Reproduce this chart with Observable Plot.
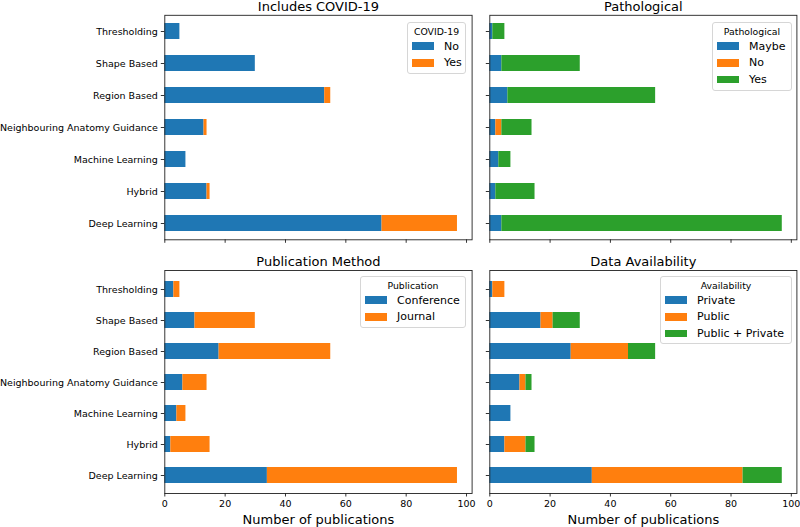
<!DOCTYPE html>
<html>
<head>
<meta charset="utf-8">
<script src="https://cdn.jsdelivr.net/npm/d3@7"></script>
<script src="https://cdn.jsdelivr.net/npm/@observablehq/plot@0.6"></script>
<style>
  html, body { margin: 0; padding: 0; background: #fff; }
  #root { position: relative; width: 800px; height: 527px; background: #fff; font-family: "DejaVu Sans", sans-serif; color: #000; overflow: hidden; }
  .panel { position: absolute; }
  .legend { position: absolute; box-sizing: border-box; border: 1px solid #d6d6d6; border-radius: 3px; background: rgba(255,255,255,0.85); }
  .legend .lt { position: absolute; left: 0; right: 0; text-align: center; font-size: 9.3px; line-height: 1; }
  .legend .sw { position: absolute; width: 22px; height: 7.5px; }
  .legend .lb { position: absolute; font-size: 11px; line-height: 1; white-space: nowrap; }
</style>
</head>
<body>
<div id="root"></div>
<script>
// ---- Data ----
const categories = ["Thresholding", "Shape Based", "Region Based", "Neighbouring Anatomy Guidance", "Machine Learning", "Hybrid", "Deep Learning"];

const covidSeries = ["No", "Yes"];
const covidNo  = [5, 30, 53, 13, 7, 14, 72];
const covidYes = [0, 0, 2, 1, 0, 1, 25];

const pathSeries = ["Maybe", "No", "Yes"];
const pathMaybe = [1, 4, 6, 2, 3, 2, 4];
const pathNo    = [0, 0, 0, 2, 0, 0, 0];
const pathYes   = [4, 26, 49, 10, 4, 13, 93];

const pubSeries = ["Conference", "Journal"];
const pubConference = [3, 10, 18, 6, 4, 2, 34];
const pubJournal    = [2, 20, 37, 8, 3, 13, 63];

const availSeries = ["Private", "Public", "Public + Private"];
const availPrivate = [1, 17, 27, 10, 7, 5, 34];
const availPublic  = [4, 4, 19, 2, 0, 7, 50];
const availBoth    = [0, 9, 9, 2, 0, 3, 13];

const xTicks = [0, 20, 40, 60, 80, 100];
const palette = ["#1f77b4", "#ff7f0e", "#2ca02c"];

// ---- Helpers ----
function toRows(series, arrays) {
  const rows = [];
  series.forEach((s, k) => {
    categories.forEach((c, i) => rows.push({category: c, series: s, value: arrays[k][i]}));
  });
  return rows;
}

function panel(opts) {
  const {rows, series, title, showY, showX, width, height, mt, mr, mb, ml} = opts;
  const marks = [
    Plot.barX(rows, {x: "value", y: "category", fill: "series", inset: 0}),
    Plot.axisY({tickSize: 3.5, tickPadding: 3.5, strokeWidth: 0.8, label: null, fontSize: 9.5,
                tickFormat: showY ? (d => d) : (() => "")}),
    Plot.axisX({ticks: xTicks, tickSize: 3.5, tickPadding: 3, strokeWidth: 0.8, label: null, fontSize: 9.5,
                tickFormat: showX ? (d => d) : (() => "")}),
    Plot.frame({stroke: "#222", strokeWidth: 0.9}),
    Plot.text([title], {frameAnchor: "top", lineAnchor: "bottom", dy: -4.5, fontSize: 13, fill: "#000"})
  ];
  if (showX) {
    marks.push(Plot.text(["Number of publications"], {frameAnchor: "bottom", lineAnchor: "bottom", dy: 30, fontSize: 13, fill: "#000"}));
  }
  return Plot.plot({
    width, height,
    marginTop: mt, marginRight: mr, marginBottom: mb, marginLeft: ml,
    style: {fontFamily: "DejaVu Sans", fontSize: "9.5px", color: "#000", background: "transparent", overflow: "visible"},
    x: {domain: [0, 101.85]},
    y: {domain: categories, paddingInner: 0.5, paddingOuter: 0.25, align: 0.5},
    color: {domain: series, range: palette.slice(0, series.length)},
    marks
  });
}

function legend(root, box, title, series) {
  const d = document.createElement("div");
  d.className = "legend";
  Object.assign(d.style, {left: box[0] + "px", top: box[1] + "px", width: box[2] + "px", height: box[3] + "px"});
  const t = document.createElement("div");
  t.className = "lt"; t.textContent = title; t.style.top = (8.6 - 5) + "px";
  d.appendChild(t);
  series.forEach((s, i) => {
    const cy = 24 + i * 16.8;
    const sw = document.createElement("div");
    sw.className = "sw"; sw.style.background = palette[i];
    sw.style.left = "4px"; sw.style.top = (cy - 3.75 - 1) + "px";
    d.appendChild(sw);
    const lb = document.createElement("div");
    lb.className = "lb"; lb.textContent = s;
    lb.style.left = "36px"; lb.style.top = (cy - 6.5) + "px";
    d.appendChild(lb);
  });
  root.appendChild(d);
}

function place(root, el, left, top) {
  const w = document.createElement("div");
  w.className = "panel";
  w.style.left = left + "px"; w.style.top = top + "px";
  w.appendChild(el);
  root.appendChild(w);
}

// ---- Build ----
const root = document.getElementById("root");

place(root, panel({rows: toRows(covidSeries, [covidNo, covidYes]), series: covidSeries, title: "Includes COVID-19",
  showY: true, showX: false, width: 480, height: 250, mt: 14.8, mr: 8.4, mb: 10.7, ml: 164.3}), 0, 0);
place(root, panel({rows: toRows(pathSeries, [pathMaybe, pathNo, pathYes]), series: pathSeries, title: "Pathological",
  showY: false, showX: false, width: 320, height: 250, mt: 14.8, mr: 3.6, mb: 10.7, ml: 9.3}), 480, 0);
place(root, panel({rows: toRows(pubSeries, [pubConference, pubJournal]), series: pubSeries, title: "Publication Method",
  showY: true, showX: true, width: 480, height: 272, mt: 15, mr: 8.4, mb: 34, ml: 164.3}), 0, 255);
place(root, panel({rows: toRows(availSeries, [availPrivate, availPublic, availBoth]), series: availSeries, title: "Data Availability",
  showY: false, showX: true, width: 320, height: 272, mt: 15, mr: 3.6, mb: 34, ml: 9.3}), 480, 255);

legend(root, [407, 22, 59, 52], "COVID-19", covidSeries);
legend(root, [712, 22, 80, 69], "Pathological", pathSeries);
legend(root, [360, 276, 106, 52], "Publication", pubSeries);
legend(root, [660, 276, 132, 68], "Availability", availSeries);
</script>
</body>
</html>
